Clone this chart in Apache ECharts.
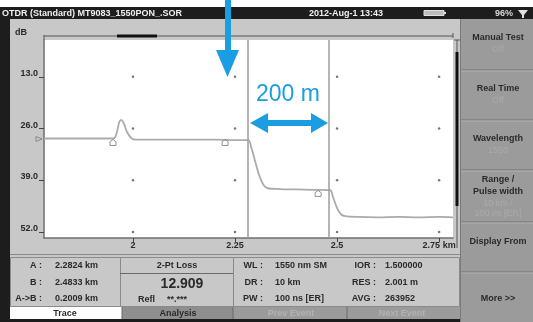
<!DOCTYPE html>
<html><head><meta charset="utf-8">
<script src="https://cdn.jsdelivr.net/npm/echarts@6/dist/echarts.min.js"></script>
<style>html,body{margin:0;padding:0;background:#fff}#c{width:533px;height:322px}</style>
</head><body><div id="c"></div>
<script>
// ---- data ----
const xTicks = [2, 2.25, 2.5, 2.75];
const yTicks = [13, 26, 39, 52];
const traceKm = [1.782, 1.85, 1.93, 1.953, 1.961, 1.966, 1.971, 1.977, 1.986, 1.997, 2.007, 2.05, 2.1, 2.15, 2.2, 2.25, 2.2824, 2.29, 2.30, 2.31, 2.32, 2.33, 2.36, 2.40, 2.44, 2.4833, 2.49, 2.50, 2.51, 2.52, 2.55, 2.6, 2.65, 2.7, 2.75, 2.784];
const traceDb = [28.5, 28.5, 28.5, 28.5, 26.8, 24.5, 23.8, 24.6, 27.0, 28.5, 28.8, 28.8, 28.8, 28.8, 28.8, 28.9, 28.9, 30.8, 34.5, 38.0, 40.2, 41.0, 41.2, 41.3, 41.4, 41.5, 43.2, 46.0, 47.6, 48.0, 48.2, 48.3, 48.2, 48.3, 48.2, 48.3];
const cursorKm = [2.2824, 2.4833];
const eventKm = [1.951, 2.2256, 2.4536];
const eventDb = [29.5, 29.5, 42.3];
const infoLeft = [["A :", "2.2824 km"], ["B :", "2.4833 km"], ["A->B :", "0.2009 km"]];
const infoRight = [["WL :", "1550 nm SM", "IOR :", "1.500000"], ["DR :", "10 km", "RES :", "2.001 m"], ["PW :", "100 ns [ER]", "AVG :", "263952"]];
const buttons = [["Manual Test", "", "Off"], ["Real Time", "", "Off"], ["Wavelength", "", "1550"], ["Range /", "Pulse width", "10 km /|100 ns [ER]"], ["Display From", "", ""]];

const F = "'Liberation Sans', Arial, sans-serif";
const blue = '#1a9de2';
const chart = echarts.init(document.getElementById('c'), null, {renderer: 'canvas'});

const traceData = traceKm.map((k, i) => [k, traceDb[i]]);
const dots = [];
xTicks.forEach(x => yTicks.forEach(y => dots.push([x, y])));
const events = eventKm.map((k, i) => [k, eventDb[i]]);

const g = [];
function rect(x, y, w, h, fill, stroke, z) {
  g.push({type: 'rect', shape: {x, y, width: w, height: h}, style: {fill, stroke: stroke || null, lineWidth: 1}, z: z == null ? -10 : z, silent: true});
}
function line(x1, y1, x2, y2, stroke, lw, z) {
  g.push({type: 'line', shape: {x1, y1, x2, y2}, style: {stroke, lineWidth: lw || 1}, z: z == null ? -5 : z, silent: true});
}
function text(x, y, t, opt) {
  opt = opt || {};
  g.push({type: 'text', x, y, z: opt.z == null ? 5 : opt.z, silent: true,
    style: {text: t, fill: opt.fill || '#2a2a2a', font: (opt.weight || 'bold') + ' ' + (opt.size || 9) + 'px ' + F,
      textAlign: opt.align || 'left', textVerticalAlign: 'middle'}});
}

// backgrounds (non-overlapping)
rect(0, 0, 533, 7, '#ffffff');
rect(0, 7, 533, 12, '#1d1d1d');
rect(0, 19, 10, 303, '#1d1d1d');
rect(10, 19, 450, 300, '#c8c8c8');
rect(10, 319, 450, 3, '#1d1d1d');
rect(460, 19, 73, 303, '#9b9b9b');
// title bar
text(2, 13.5, 'OTDR (Standard) MT9083_1550PON_.SOR', {fill: '#f0f0f0', size: 9});
text(346, 13.5, '2012-Aug-1 13:43', {fill: '#f0f0f0', size: 9, align: 'center'});
g.push({type: 'rect', shape: {x: 424, y: 10.5, width: 20, height: 5}, style: {fill: '#bdbdbd', stroke: '#e0e0e0', lineWidth: 1}, z: 5, silent: true});
rect(444, 12, 2, 2, '#e0e0e0', null, 5);
text(513, 13.5, '96%', {fill: '#d8d8d8', size: 9, align: 'right'});
g.push({type: 'polygon', shape: {points: [[518, 10], [528, 10], [524, 15], [524, 18], [522, 18], [522, 15]]}, style: {fill: '#e0e0e0'}, z: 5, silent: true});
// dB label & top scale
text(15, 33, 'dB', {size: 9});
line(44, 36, 453, 36, '#555', 1);
line(44, 35, 44, 41, '#555', 1);
line(453, 33, 453, 38, '#555', 1);
line(117, 36, 157, 36, '#111', 3);
// right scroll bar
line(457, 40, 457, 248, '#555', 1);
line(454, 40, 460, 40, '#555', 1);
line(457, 52, 457, 206, '#111', 3);
// right buttons
const seps = [19, 70, 120, 170, 222, 272];
seps.forEach((y, i) => { if (i > 0) { line(460, y, 533, y, '#6e6e6e', 1); line(460, y + 1, 533, y + 1, '#b4b4b4', 1); } });
line(460.5, 19, 460.5, 322, '#7a7a7a', 1);
buttons.forEach((b, i) => {
  const top = seps[i];
  const cx = 498;
  if (b[1]) {
    text(cx, top + 10, b[0], {align: 'center'});
    text(cx, top + 22, b[1], {align: 'center'});
    const subs = b[2].split('|');
    subs.forEach((s, j) => text(cx, top + 34 + j * 10, s, {align: 'center', fill: '#aaaaaa', weight: 'normal'}));
  } else {
    text(cx, top + (i === 4 ? 20 : 19), b[0], {align: 'center'});
    if (b[2]) text(cx, top + 31, b[2], {align: 'center', fill: '#aaaaaa', weight: 'normal'});
  }
});
text(498, 299, 'More >>', {align: 'center'});
// info panel
line(10, 254.5, 460, 254.5, '#8a8a8a', 1);
g.push({type: 'rect', shape: {x: 10.5, y: 257.5, width: 110, height: 49}, style: {fill: '#c8c8c8', stroke: '#8a8a8a', lineWidth: 1}, z: -4, silent: true});
g.push({type: 'rect', shape: {x: 120.5, y: 257.5, width: 113, height: 49}, style: {fill: '#c8c8c8', stroke: '#8a8a8a', lineWidth: 1}, z: -4, silent: true});
g.push({type: 'rect', shape: {x: 233.5, y: 257.5, width: 226, height: 49}, style: {fill: '#c8c8c8', stroke: '#8a8a8a', lineWidth: 1}, z: -4, silent: true});
line(120, 273.5, 233, 273.5, '#6a6a6a', 1, -3);
infoLeft.forEach((r, i) => {
  const y = 266 + i * 16.5;
  text(42, y, r[0], {align: 'right'});
  text(55, y, r[1]);
});
text(177, 265.5, '2-Pt Loss', {align: 'center'});
text(182, 284, '12.909', {align: 'center', size: 14});
text(138, 299.5, 'Refl', {});
text(167, 299.5, '**.***', {});
infoRight.forEach((r, i) => {
  const y = 266 + i * 16.5;
  text(263, y, r[0], {align: 'right'});
  text(275, y, r[1]);
  text(376, y, r[2], {align: 'right'});
  text(385, y, r[3]);
});
// tabs
rect(10, 307, 112, 12, '#ffffff', null, -4);
rect(122, 307, 111, 12, '#8e8e8e', null, -4);
rect(233, 307, 114, 12, '#9b9b9b', null, -4);
rect(347, 307, 113, 12, '#9b9b9b', null, -4);
line(122, 307, 122, 319, '#6a6a6a', 1, -3);
line(233, 307, 233, 319, '#6a6a6a', 1, -3);
line(347, 307, 347, 319, '#6a6a6a', 1, -3);
text(65, 314, 'Trace', {align: 'center'});
text(178, 314, 'Analysis', {align: 'center'});
text(291, 314, 'Prev Event', {align: 'center', fill: '#b3b3b3'});
text(402, 314, 'Next Event', {align: 'center', fill: '#b3b3b3'});
// start marker
g.push({type: 'polygon', shape: {points: [[36, 136.5], [42, 139], [36, 141.5]]}, style: {fill: 'none', stroke: '#888', lineWidth: 1}, z: 5, silent: true});
// blue annotations
rect(225, 0, 6, 52, blue, null, 50);
g.push({type: 'polygon', shape: {points: [[216, 50], [239, 50], [227.5, 77]]}, style: {fill: blue}, z: 50, silent: true});
text(288, 95, '200 m', {fill: blue, size: 23, weight: 'normal', align: 'center', z: 50});
g.push({type: 'polygon', shape: {points: [[250, 123], [268, 113], [268, 120], [311, 120], [311, 113], [328, 123], [311, 133], [311, 126], [268, 126], [268, 133]]}, style: {fill: blue}, z: 50, silent: true});

chart.setOption({
  animation: false,
  backgroundColor: 'transparent',
  grid: {left: 44, right: 80, top: 40, bottom: 84, show: true, backgroundColor: '#ffffff', borderWidth: 0, z: 0},
  xAxis: {
    type: 'value', min: 1.782, max: 2.784,
    axisLine: {show: true, lineStyle: {color: '#6f6f6f', width: 1.5}},
    axisTick: {show: true, customValues: xTicks, length: 4, lineStyle: {color: '#444'}},
    axisLabel: {customValues: xTicks, margin: 3, fontFamily: F, fontWeight: 'bold', fontSize: 9, color: '#2a2a2a',
      formatter: v => Math.abs(v - 2.75) < 1e-6 ? '2.75 km' : String(v)},
    splitLine: {show: false}
  },
  yAxis: {
    type: 'value', inverse: true, min: 3.75, max: 53.5,
    axisLine: {show: true, lineStyle: {color: '#6f6f6f', width: 1.5}},
    axisTick: {show: true, customValues: yTicks, length: 5, lineStyle: {color: '#444'}},
    axisLabel: {customValues: yTicks, margin: 6, fontFamily: F, fontWeight: 'bold', fontSize: 9, color: '#2a2a2a',
      verticalAlign: 'bottom', padding: [0, 0, -1, 0], formatter: v => v.toFixed(1)},
    splitLine: {show: false}
  },
  series: [
    {type: 'scatter', data: dots, symbolSize: 2.5, itemStyle: {color: '#555'}, silent: true, z: 2},
    {type: 'line', data: traceData, showSymbol: false, smooth: 0.3, lineStyle: {color: '#ababab', width: 1.8}, silent: true, z: 3,
      markLine: {silent: true, symbol: ['none', 'none'], label: {show: false},
        lineStyle: {color: '#9c9c9c', width: 1.5, type: 'solid'},
        data: cursorKm.map(k => ({xAxis: k}))}},
    {type: 'scatter', data: events, symbol: 'path://M0,3 L4,0 L8,3 L8,8 L0,8 Z', symbolSize: [6, 6], itemStyle: {color: 'transparent', borderColor: '#777', borderWidth: 1}, silent: true, z: 4}
  ],
  graphic: {elements: g}
});
</script></body></html>
